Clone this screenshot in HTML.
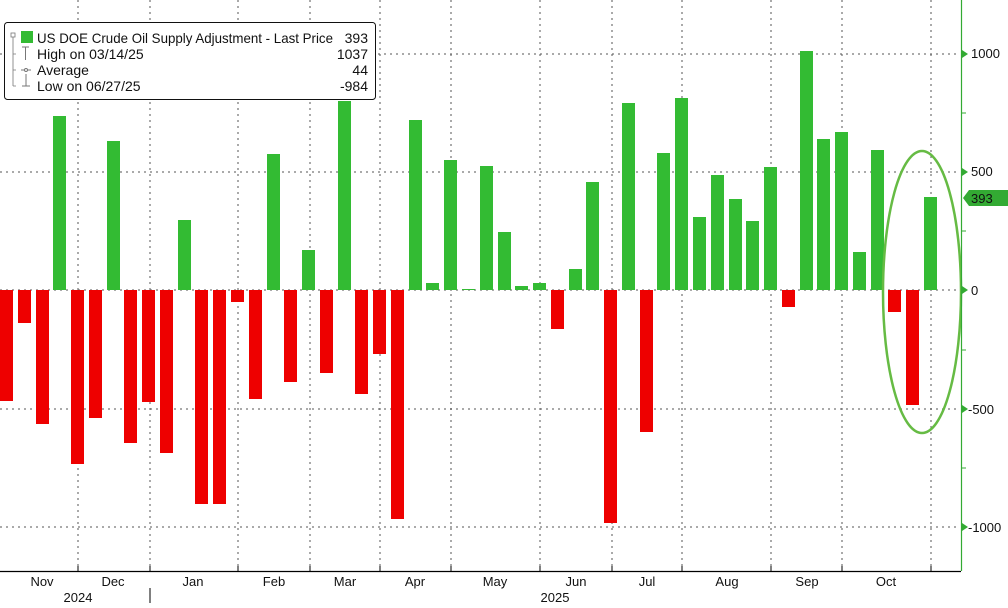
<!DOCTYPE html>
<html><head><meta charset="utf-8"><style>
body{margin:0;background:#fff;width:1008px;height:603px;overflow:hidden;font-family:"Liberation Sans",sans-serif;}
svg text{font-family:"Liberation Sans",sans-serif;}
</style></head><body>
<svg width="1008" height="603" xmlns="http://www.w3.org/2000/svg">
<g stroke="#555" stroke-width="1" stroke-dasharray="2,4">
<line x1="0" y1="54" x2="960" y2="54"/><line x1="0" y1="172" x2="960" y2="172"/><line x1="0" y1="290" x2="960" y2="290"/><line x1="0" y1="409" x2="960" y2="409"/><line x1="0" y1="527" x2="960" y2="527"/>
<line x1="78" y1="0" x2="78" y2="571"/><line x1="150" y1="0" x2="150" y2="571"/><line x1="238" y1="0" x2="238" y2="571"/><line x1="310" y1="0" x2="310" y2="571"/><line x1="380" y1="0" x2="380" y2="571"/><line x1="451" y1="0" x2="451" y2="571"/><line x1="540" y1="0" x2="540" y2="571"/><line x1="612" y1="0" x2="612" y2="571"/><line x1="682" y1="0" x2="682" y2="571"/><line x1="771" y1="0" x2="771" y2="571"/><line x1="842" y1="0" x2="842" y2="571"/><line x1="931" y1="0" x2="931" y2="571"/>
</g>
<g fill="#ee0000">
<rect x="0" y="290" width="13" height="111"/><rect x="18" y="290" width="13" height="33"/><rect x="36" y="290" width="13" height="134"/>
<rect x="71" y="290" width="13" height="174"/><rect x="89" y="290" width="13" height="128"/>
<rect x="124" y="290" width="13" height="153"/><rect x="142" y="290" width="13" height="112"/><rect x="160" y="290" width="13" height="163"/>
<rect x="195" y="290" width="13" height="214"/><rect x="213" y="290" width="13" height="214"/><rect x="231" y="290" width="13" height="12"/><rect x="249" y="290" width="13" height="109"/>
<rect x="284" y="290" width="13" height="92"/><rect x="320" y="290" width="13" height="83"/>
<rect x="355" y="290" width="13" height="104"/><rect x="373" y="290" width="13" height="64"/><rect x="391" y="290" width="13" height="229"/>
<rect x="551" y="290" width="13" height="39"/><rect x="604" y="290" width="13" height="233"/><rect x="640" y="290" width="13" height="142"/>
<rect x="782" y="290" width="13" height="17"/><rect x="888" y="290" width="13" height="22"/><rect x="906" y="290" width="13" height="115"/>
</g>
<g fill="#33bb33">
<rect x="53" y="116" width="13" height="174"/><rect x="107" y="141" width="13" height="149"/><rect x="178" y="220" width="13" height="70"/>
<rect x="267" y="154" width="13" height="136"/><rect x="302" y="250" width="13" height="40"/><rect x="338" y="101" width="13" height="189"/>
<rect x="409" y="120" width="13" height="170"/><rect x="426" y="283" width="13" height="7"/><rect x="444" y="160" width="13" height="130"/>
<rect x="462" y="289" width="13" height="1"/><rect x="480" y="166" width="13" height="124"/><rect x="498" y="232" width="13" height="58"/>
<rect x="515" y="286" width="13" height="4"/><rect x="533" y="283" width="13" height="7"/><rect x="569" y="269" width="13" height="21"/>
<rect x="586" y="182" width="13" height="108"/><rect x="622" y="103" width="13" height="187"/><rect x="657" y="153" width="13" height="137"/>
<rect x="675" y="98" width="13" height="192"/><rect x="693" y="217" width="13" height="73"/><rect x="711" y="175" width="13" height="115"/>
<rect x="729" y="199" width="13" height="91"/><rect x="746" y="221" width="13" height="69"/><rect x="764" y="167" width="13" height="123"/>
<rect x="800" y="51" width="13" height="239"/><rect x="817" y="139" width="13" height="151"/><rect x="835" y="132" width="13" height="158"/>
<rect x="853" y="252" width="13" height="38"/><rect x="871" y="150" width="13" height="140"/><rect x="924" y="197" width="13" height="93"/>
</g>
<ellipse cx="922" cy="292" rx="39" ry="141" fill="none" stroke="#66bb44" stroke-width="2.5"/>
<line x1="0" y1="571.5" x2="961" y2="571.5" stroke="#000" stroke-width="1.2"/>
<line x1="961.5" y1="0" x2="961.5" y2="571" stroke="#33aa33" stroke-width="1.2"/>
<g stroke="#000"><line x1="78" y1="566" x2="78" y2="571"/><line x1="150" y1="566" x2="150" y2="571"/><line x1="238" y1="566" x2="238" y2="571"/><line x1="310" y1="566" x2="310" y2="571"/><line x1="380" y1="566" x2="380" y2="571"/><line x1="451" y1="566" x2="451" y2="571"/><line x1="540" y1="566" x2="540" y2="571"/><line x1="612" y1="566" x2="612" y2="571"/><line x1="682" y1="566" x2="682" y2="571"/><line x1="771" y1="566" x2="771" y2="571"/><line x1="842" y1="566" x2="842" y2="571"/><line x1="931" y1="566" x2="931" y2="571"/>
<line x1="150" y1="588" x2="150" y2="603"/></g>
<g stroke="#33aa33"><line x1="961" y1="113" x2="966" y2="113"/><line x1="961" y1="231" x2="966" y2="231"/><line x1="961" y1="350" x2="966" y2="350"/><line x1="961" y1="468" x2="966" y2="468"/></g>
<g fill="#33aa33"><path d="M962,50 l6,4 l-6,4z"/><path d="M962,168 l6,4 l-6,4z"/><path d="M962,286 l6,4 l-6,4z"/><path d="M962,405 l6,4 l-6,4z"/><path d="M962,523 l6,4 l-6,4z"/>
<path d="M963,198 l6,-8 h39 v16 h-39z"/></g>
<g font-size="13" fill="#111">
<text x="971" y="58">1000</text><text x="971" y="176">500</text><text x="971" y="295">0</text><text x="968" y="414">-500</text><text x="968" y="532">-1000</text>
<text x="971" y="203">393</text>
<g text-anchor="middle"><text x="42" y="586">Nov</text><text x="113" y="586">Dec</text><text x="193" y="586">Jan</text><text x="274" y="586">Feb</text><text x="345" y="586">Mar</text><text x="415" y="586">Apr</text><text x="495" y="586">May</text><text x="576" y="586">Jun</text><text x="647" y="586">Jul</text><text x="727" y="586">Aug</text><text x="807" y="586">Sep</text><text x="886" y="586">Oct</text>
<text x="78" y="602">2024</text><text x="555" y="602">2025</text></g>
</g>
<rect x="4.5" y="22.5" width="371" height="77" rx="3" fill="#fff" stroke="#111" stroke-width="1"/>
<rect x="11" y="33" width="4" height="4" fill="none" stroke="#777" stroke-width="0.8"/>
<path d="M13,37 V86 M13,54 h3 M13,70 h3 M13,86 h3" stroke="#777" stroke-width="0.8" fill="none"/>
<rect x="21" y="31" width="12" height="12" fill="#33bb33"/>
<path d="M22,47 h7 M25.5,47 v13 M21,70 h10 M26,86 v-12 M22,86 h8" stroke="#777" stroke-width="1" fill="none"/>
<circle cx="26" cy="70" r="1.5" fill="#fff" stroke="#777"/>
<g font-size="14" fill="#111">
<text x="37" y="43" textLength="296" lengthAdjust="spacingAndGlyphs">US DOE Crude Oil Supply Adjustment - Last Price</text>
<text x="37" y="59">High on 03/14/25</text><text x="37" y="75">Average</text><text x="37" y="91">Low on 06/27/25</text>
<g text-anchor="end"><text x="368" y="43">393</text><text x="368" y="59">1037</text><text x="368" y="75">44</text><text x="368" y="91">-984</text></g>
</g>
</svg>
</body></html>
